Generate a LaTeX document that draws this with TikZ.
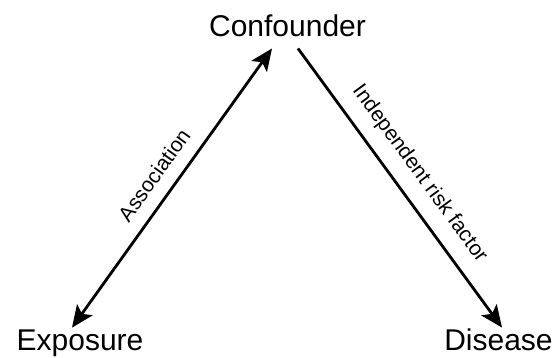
\documentclass[tikz,border=0pt]{standalone}
\usepackage{fontspec}
\setmainfont{Liberation Sans}
\usetikzlibrary{positioning,arrows.meta}

\begin{document}
\begin{tikzpicture}[
x=1pt, y=1pt,
term/.style={inner sep = 0pt, anchor=base, font=\fontsize{30}{36}\selectfont},
edgelabel/.style={font=\fontsize{21}{25}\selectfont, midway, sloped, above, inner sep=0pt, yshift=13pt},
assoc/.style ={{Stealth[length=22pt, width=19pt, inset=5pt]}-{Stealth[length=22pt, width=19pt, inset=5pt]}, line width=2.8pt},
cause/.style = {-{Stealth[length=22pt, width=19pt, inset=5pt]}, line width=2.8pt}]

\useasboundingbox (0,0) rectangle (558,-358);

\node[term] (conf) at (287.5,-37) {Confounder};
\node[term] (expo) [below left = 314pt and 207.5pt of conf.base, anchor=base] {Exposure};
\node[term] (dise) [below right = 314pt and 211pt of conf.base, anchor=base] {Disease};

\draw[assoc]([xshift=-8pt, yshift=2.5pt]expo.north)--([xshift=-15.5pt, yshift=-11pt]conf.south)
  node[edgelabel] {Association};
\draw[cause]([xshift=10.5pt, yshift=-11pt]conf.south)--([xshift=3.5pt, yshift=1.5pt]dise.north)
  node[edgelabel] {Independent risk factor};
\end{tikzpicture}
\end{document}
